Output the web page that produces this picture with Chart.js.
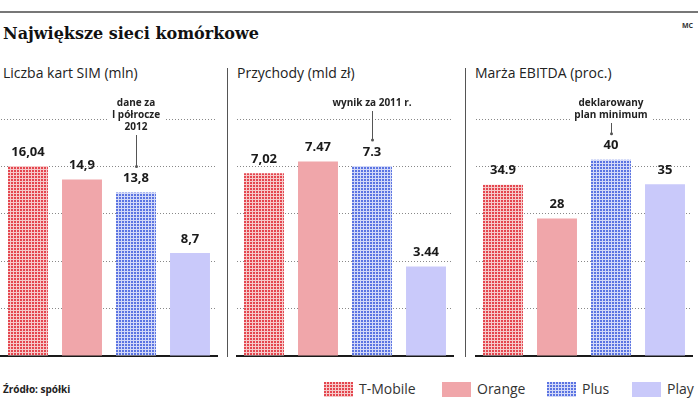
<!DOCTYPE html>
<html lang="pl">
<head>
<meta charset="UTF-8">
<title>Największe sieci komórkowe</title>
<script src="https://cdn.jsdelivr.net/npm/chart.js"></script>
<style>
  body { margin: 0; width: 698px; height: 398px; background: #fff; position: relative; overflow: hidden; font-family: "Open Sans", sans-serif; color: #222; }
  .topline { position: absolute; left: 0; top: 11px; width: 698px; height: 2px; background: #777; }
  .mc { position: absolute; right: 5px; top: 21px; font: bold 7px "Open Sans", sans-serif; color: #333; }
  h1 { position: absolute; left: 3px; top: 24px; margin: 0; font: bold 16px "DejaVu Serif", serif; color: #111; }
  .ptitle { position: absolute; top: 63px; font-size: 14px; color: #222; }
  .sep { position: absolute; top: 68px; width: 1px; height: 289px; background: #555; }
  canvas.chart { position: absolute; top: 92px; }
  .source { position: absolute; left: 3px; top: 382px; font-size: 10px; font-weight: bold; color: #222; }
  .leg { position: absolute; top: 380px; font-size: 14px; color: #333; line-height: 18px; }
  .leg canvas { position: absolute; top: 2px; left: 0; }
</style>
</head>
<body>
<div class="topline"></div>
<div class="mc">MC</div>
<h1>Największe sieci komórkowe</h1>

<div class="ptitle" style="left:3px">Liczba kart SIM (mln)</div>
<div class="ptitle" style="left:237px">Przychody (mld zł)</div>
<div class="ptitle" style="left:475px">Marża EBITDA (proc.)</div>
<div class="sep" style="left:227px"></div>
<div class="sep" style="left:465px"></div>

<canvas class="chart" id="simChart" width="220" height="270" style="left:-1px"></canvas>
<canvas class="chart" id="revChart" width="220" height="270" style="left:235px"></canvas>
<canvas class="chart" id="ebitdaChart" width="220" height="270" style="left:474px"></canvas>

<div class="source">Źródło: spółki</div>
<div id="legend"></div>

<script>
const categories = ['T-Mobile', 'Orange', 'Plus', 'Play'];

const simCards = [16.04, 14.9, 13.8, 8.7];
const revenue = [7.02, 7.47, 7.3, 3.44];
const ebitda = [34.9, 28, 40, 35];

const simLabels = ['16,04', '14,9', '13,8', '8,7'];
const revenueLabels = ['7,02', '7.47', '7.3', '3.44'];
const ebitdaLabels = ['34.9', '28', '40', '35'];

const simNote = ['dane za', 'I półrocze', '2012'];
const revenueNote = ['wynik za 2011 r.'];
const ebitdaNote = ['deklarowany', 'plan minimum'];

// dotted fill used for T-Mobile and Plus
function dots(bg, fg) {
    const c = document.createElement('canvas');
    c.width = 3; c.height = 3;
    const g = c.getContext('2d');
    g.fillStyle = bg; g.fillRect(0, 0, 3, 3);
    g.fillStyle = fg; g.fillRect(0, 0, 2, 2);
    return c;
}
const redDots = dots('#f6caca', '#e4464f');
const blueDots = dots('#d3d9f8', '#5b74e2');

function barColors(ctx) {
    return [
        ctx.createPattern(redDots, 'repeat'),
        '#f0a6aa',
        ctx.createPattern(blueDots, 'repeat'),
        '#c9c9fa'
    ];
}

const barText = {
    id: 'barText',
    afterDatasetsDraw(chart, args, opts) {
        const ctx = chart.ctx;
        const bars = chart.getDatasetMeta(0).data;
        ctx.save();
        ctx.textAlign = 'center';
        ctx.textBaseline = 'middle';
        ctx.fillStyle = '#1a1a1a';
        ctx.font = 'bold 13px "Open Sans"';
        bars.forEach((bar, i) => ctx.fillText(opts.labels[i], bar.x, bar.y - 14));

        // note over the Plus bar
        const b = bars[2];
        ctx.font = 'bold 10px "Open Sans"';
        let y = 11;
        opts.note.forEach(line => {
            const w = ctx.measureText(line).width;
            ctx.fillStyle = '#fff';
            ctx.fillRect(b.x - w / 2 - 4, y - 6, w + 8, 12);
            ctx.fillStyle = '#222';
            ctx.fillText(line, b.x, y);
            y += 12;
        });
        const y0 = y - 4, y1 = b.y - 26;
        ctx.strokeStyle = '#555';
        ctx.lineWidth = 1;
        ctx.beginPath();
        ctx.moveTo(Math.round(b.x) + 0.5, y0);
        ctx.lineTo(Math.round(b.x) + 0.5, y1);
        ctx.stroke();
        ctx.fillStyle = '#555';
        ctx.beginPath();
        ctx.arc(Math.round(b.x) + 0.5, y1, 1.5, 0, Math.PI * 2);
        ctx.fill();
        ctx.restore();
    }
};

function makeChart(id, values, labels, note, yMax) {
    const ctx = document.getElementById(id).getContext('2d');
    return new Chart(ctx, {
        type: 'bar',
        data: {
            labels: categories,
            datasets: [{
                data: values,
                backgroundColor: barColors(ctx),
                borderWidth: 0,
                categoryPercentage: 1,
                barPercentage: 0.74
            }]
        },
        options: {
            responsive: false,
            animation: false,
            devicePixelRatio: 1,
            layout: { padding: { top: 27, bottom: 6, left: 2, right: 2 } },
            plugins: {
                legend: { display: false },
                tooltip: { enabled: false },
                barText: { labels: labels, note: note }
            },
            scales: {
                x: {
                    grid: { display: false, drawTicks: false },
                    ticks: { display: false },
                    border: { display: true, color: '#1a1a1a', width: 2 }
                },
                y: {
                    min: 0,
                    max: yMax,
                    afterBuildTicks: axis => {
                        axis.ticks = [0, 1, 2, 3, 4, 5].map(k => ({ value: k * yMax / 5 }));
                    },
                    grid: {
                        drawTicks: false,
                        color: c => c.index === 0 ? 'rgba(0,0,0,0)' : '#888',
                        lineWidth: 1
                    },
                    border: { display: false, dash: [1, 2] },
                    ticks: { display: false }
                }
            }
        },
        plugins: [barText]
    });
}

makeChart('simChart', simCards, simLabels, simNote, 20);
makeChart('revChart', revenue, revenueLabels, revenueNote, 9.1);
makeChart('ebitdaChart', ebitda, ebitdaLabels, ebitdaNote, 48.3);

// legend
const legendX = [324, 442, 547, 632];
const legend = document.getElementById('legend');
categories.forEach((name, i) => {
    const item = document.createElement('div');
    item.className = 'leg';
    item.style.left = legendX[i] + 'px';
    item.style.paddingLeft = '35px';
    item.textContent = name;
    const sw = document.createElement('canvas');
    sw.width = 29; sw.height = 15;
    const g = sw.getContext('2d');
    g.fillStyle = barColors(g)[i];
    g.fillRect(0, 0, 29, 15);
    item.appendChild(sw);
    legend.appendChild(item);
});
</script>
</body>
</html>
